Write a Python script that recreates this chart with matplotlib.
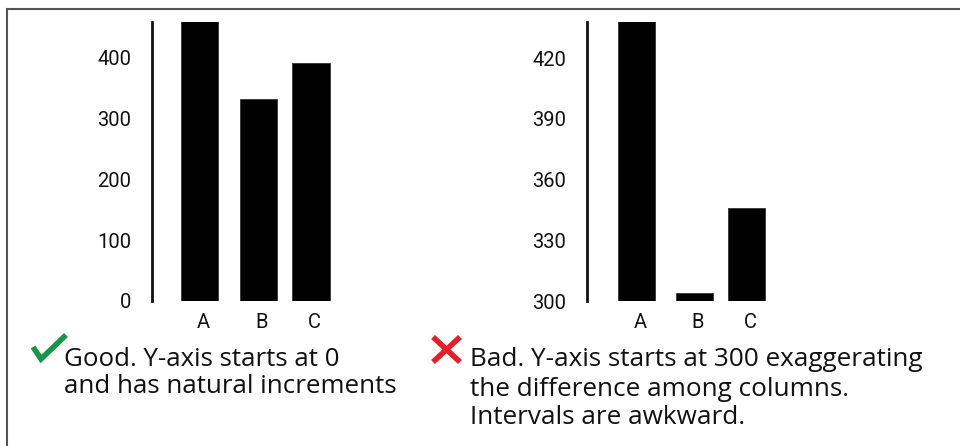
import matplotlib
matplotlib.use("Agg")
import matplotlib.pyplot as plt
from matplotlib.lines import Line2D
from matplotlib.patches import Rectangle

# ---- data ----
categories = ["A", "B", "C"]
good_values = [460, 331, 390]
good_ticks = [0, 100, 200, 300, 400]
bad_values = [440, 304, 346]
bad_ticks = [300, 330, 360, 390, 420]

good_caption = ["Good. Y-axis starts at 0", "and has natural increments"]
bad_caption = ["Bad. Y-axis starts at 300 exaggerating",
               "the difference among columns.",
               "Intervals are awkward."]

W, H = 960, 446
fig = plt.figure(figsize=(W / 100, H / 100), dpi=100)

def px_axes(x0, y0, x1, y1):
    # pixel box (top-left origin) -> figure fraction
    return fig.add_axes([x0 / W, 1 - y1 / H, (x1 - x0) / W, (y1 - y0) / H])

pos = [0, 1.0, 1.9]
bar_w = 0.64

def draw_panel(ax, values, ticks, ylim, unit_px, left_px_gap):
    ax.bar(pos, values, width=bar_w, color="black", edgecolor="#333333", linewidth=0.6)
    ax.set_ylim(*ylim)
    ax.set_xlim(-left_px_gap / unit_px, 2.6)
    ax.set_yticks(ticks)
    ax.set_yticklabels([str(t) for t in ticks])
    ax.set_xticks([p + 0.06 for p in pos])
    ax.set_xticklabels(categories)
    for s in ["top", "right", "bottom"]:
        ax.spines[s].set_visible(False)
    ax.spines["left"].set_linewidth(2.0)
    ax.spines["left"].set_color("#111111")
    ax.tick_params(axis="y", length=0, pad=15, labelsize=14.5, labelcolor="#111111")
    ax.tick_params(axis="x", length=0, pad=9, labelsize=14.5, labelcolor="#111111")
    for lab in ax.get_yticklabels() + ax.get_xticklabels():
        lab.set_fontfamily("Roboto")
    ax.patch.set_alpha(0)

ax1 = px_axes(152, 22, 352, 301)
draw_panel(ax1, good_values, good_ticks, (0, 458), 59, 48)

ax2 = px_axes(587, 22, 787, 301)
draw_panel(ax2, bad_values, bad_ticks, (300, 437.8), 56, 48)

# frame
fig.patches.append(Rectangle((7 / W, -0.05), 1.1, 1 - 9 / H + 0.05,
                             transform=fig.transFigure, fill=False,
                             edgecolor="#555555", linewidth=1.5, zorder=0))

# captions
def fig_text(x, y, s, size):
    return fig.text(x / W, 1 - y / H, s, fontsize=size, family="Open Sans",
                    ha="left", va="baseline", color="#111111")

def fit_lines(lines, x, baselines, target_w, longest_idx):
    size = 14
    t = fig_text(x, baselines[0], lines[longest_idx], size)
    fig.canvas.draw()
    w = t.get_window_extent().width
    t.remove()
    size = size * target_w / w
    for s, b in zip(lines, baselines):
        fig_text(x, b, s, size)

fit_lines(good_caption, 64, [366, 393], 333, 1)
fit_lines(bad_caption, 470, [366, 396, 424], 455, 0)

# check mark (green) and cross (red)
def px_line(xs, ys, color, lw):
    fig.add_artist(Line2D([x / W for x in xs], [1 - y / H for y in ys],
                          transform=fig.transFigure, color=color,
                          linewidth=lw, solid_capstyle="butt",
                          solid_joinstyle="miter"))

px_line([33, 41, 66], [347, 359, 335], "#17964a", 4.0)
px_line([433, 460], [337, 362], "#e41f2c", 4.0)
px_line([460, 433], [337, 362], "#e41f2c", 4.0)

fig.savefig("out.png", dpi=100)
